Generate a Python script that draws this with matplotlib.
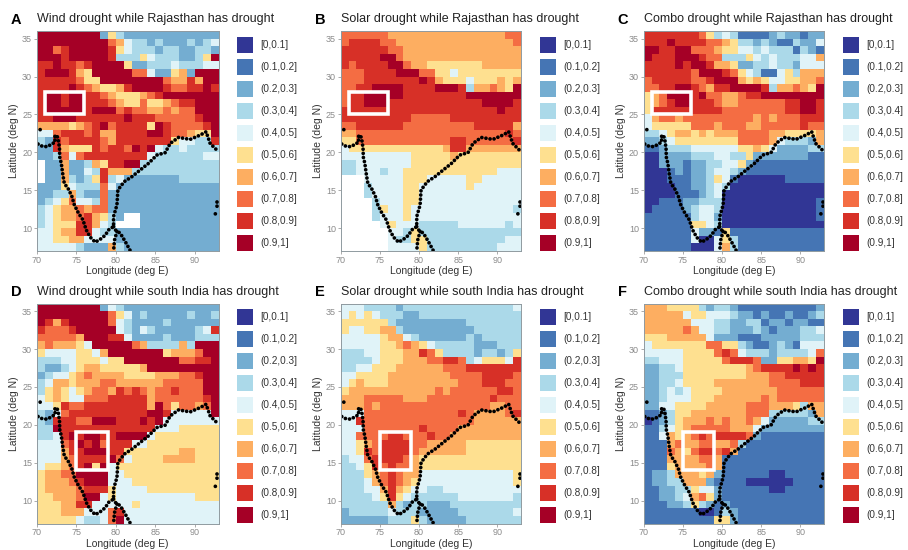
import numpy as np
import matplotlib
matplotlib.use("Agg")
import matplotlib.pyplot as plt
from matplotlib.colors import ListedColormap, BoundaryNorm
from matplotlib.patches import Rectangle

plt.rcParams['font.family'] = ['Liberation Sans', 'DejaVu Sans']

W, H = 908, 550

# bins as digits, 0 = [0,0.1] ... 9 = (0.9,1], '.' = no data. top row is lat 35-36
wind_raj = [
    "99999999253222222222222", "99999999976433232223234", "99789999985433323322332",
    "99989999983335433322359", "88988789999522333433344", "89998659999977422562999",
    "88888755999999997668699", "88889876556899998778898", "89989988765556789999999",
    "89989988876557556788999", "89999989997877667677999", "88999888888988877777899",
    "66665678978888598777789", "44788878668888998776559", "32878888768888888544338",
    "22865558788798943343333", "22374788888888433333344", ".22622365889933333333333",
    ".2262243866633333333333", ".2263235834222222233333", "22254333742222222222222",
    "22336322722222222222222", "23457443722222222222222", "34566767722222222222222",
    "34566786532..2222222222", "3455588643...2222222222", "44566884332222222222222",
    "44556644442222222222222", "44444322263222222222222",
]
solar_raj = [
    "77777766666666666666677", "78888776666666666666667", "88888877666666666666666",
    "88888997666666666666666", "87888899766555555566666", "77788889997755455555555",
    "77788888889865554555656", "77889999888899983667659", "78899999888888889999999",
    "78899988888888888899998", "88888888888888888888988", "88888888877777888888888",
    "77888888777777777888886", "66777777777777777777787", "55777777777777887777778",
    "45555555555556886666666", "44444444455555655555555", "33444444455555555555555",
    "33444344555555555555444", "...44444555444445544444", "...34444554444445444444",
    "...34444554444444444444", "....3444554444444444444", "....35445444444444444435",
    "....3444544444444444444", ".....454443333344444434", "......44353333333333333",
    "......43355333333333344", "......44445333333333444",
]
combo_raj = [
    "88888887534311112322122", "88898888776533232113224", "99889977765544343331321",
    "98889998773335434333446", "88889899866522334332444", "88888879998754311453666",
    "78888877899965654455667", "77889987688999983667659", "56799989776678899999999",
    "56789988876677777788998", "58888888887777777788998", "46776777777777676777888",
    "45555577767776677777877", "33456656566677776655556", "22345555555577776433326",
    "11233344444455654222233", "00222233344335222222211", "00222122334452111111111",
    "00012122344321111111111", "00011122354100000011111", "00001122343000000000000",
    "00001112340000000000000", "00111223330000000000001", "01111234430000000000001",
    "11111134420000000000001", "11111155430000000000000", "11111142215111111111111",
    "11111140045311111111111", "11111100046311111111111",
]
wind_south = [
    "99999999243222222222222", "99999999975423222223223", "98689999974322223222222",
    "87778999994324322222348", "77777699988422223222333", "67666549999976333363999",
    "54444554699999995666799", "33344555455999999977889", "32234566555556999999999",
    "23445676666555566677899", "34665666776666667777799", "35654567768787677877799",
    "45654477788888677777789", "44587788888888697577679", "32478888888888998444449",
    "32888779998889894444444", "33988888888888844455555", "33489899889999455555555",
    "44478989788844555555555", "44468899988555555566555", "44467888897455556666555",
    "45567895945555555555555", "56677999944555555555555", "56667899944455555555555",
    "56666788854444555555555", "55666799454444444444555", "55566884444454444444444",
    "55566644478444444444444", "55555433479444444444444",
]
solar_south = [
    "44433332333333333333334", "45454333223333333333333", "55555532222222223333333",
    "54455663222222222333333", "44444566432222223233333", "44444556765433333222333",
    "33344555668753333233235", "33334555666778873455548", "33445556666667778888888",
    "44555566666666777788887", "45655566666666677788877", "56666666666676777777887",
    "66677777666777777778777", "66676777777777777776677", "44477777777777787666678",
    "44877777777777777666666", "44477777778777766666666", "44777788777877666666666",
    "44567888877666665555555", "44587888876666665555555", "34478888765555555555555",
    "33458787765555555555555", "33356787664444444444445", "33346787654444444444445",
    "33344686544334444444444", "33334585433333344444443", "33333363233222333333333",
    "23333343332222233333334", "22222233353222223333333",
]
combo_south = [
    "66655553233211111111112", "66666455444322121121123", "66666644433223312212211",
    "66666764433222321222334", "55566666422211122222333", "45555555775532112321444",
    "44444555578743332333347", "33444555557888722556659", "22334555555556788889898",
    "22333555555556667788888", "22334555566666667777888", "22343455556666666777777",
    "22344455566666676777777", "22445555666667776665366", "11235566666667773333326",
    "01235666767667642222233", "11345677777666422222222", "11465678788887211111111",
    "11167667766731111111111", "11176578878611111111111", "11166667761111111111111",
    "11156666761111111111111", "12236665621111110011111", "12233666211110000001111",
    "11223354421111110011111", "11223467521111111111111", "11122353212111111111111",
    "11111110013211111111111", "11111111155211111111111",
]

panels = [wind_raj, solar_raj, combo_raj, wind_south, solar_south, combo_south]
titles = [
    "Wind drought while Rajasthan has drought",
    "Solar drought while Rajasthan has drought",
    "Combo drought while Rajasthan has drought",
    "Wind drought while south India has drought",
    "Solar drought while south India has drought",
    "Combo drought while south India has drought",
]
letters = ["A", "B", "C", "D", "E", "F"]
bin_labels = ["[0,0.1]", "(0.1,0.2]", "(0.2,0.3]", "(0.3,0.4]", "(0.4,0.5]",
              "(0.5,0.6]", "(0.6,0.7]", "(0.7,0.8]", "(0.8,0.9]", "(0.9,1]"]
bin_colors = ["#313695", "#4575b4", "#74add1", "#abd9e9", "#e0f3f8",
              "#fee090", "#fdae61", "#f46d43", "#d73027", "#a50026"]

# coastline
coast_lon = [70.13, 70.63, 71.27, 71.9, 72.32, 72.2, 72.53, 72.74, 72.87, 72.87, 73.08, 73.25,
             73.46, 74.0, 74.43, 74.73, 75.27, 75.82, 76.24, 76.75, 77.38, 78.02, 78.65, 79.07,
             79.7, 79.7, 80.13, 80.25, 81.05, 82.03, 83.08, 84.13, 85.19, 86.24, 86.88, 87.93,
             89.41, 90.68, 91.43, 91.94, 92.87]
coast_lat = [21.1, 20.83, 20.75, 21.1, 21.4, 22.06, 22.28, 21.4, 20.3, 19.43, 18.55, 17.24,
             15.92, 15.13, 14.17, 13.07, 11.97, 11.1, 9.78, 8.82, 8.16, 8.55, 9.08, 9.78,
             10.22, 11.54, 13.07, 15.04, 16.14, 16.8, 17.68, 18.55, 19.65, 19.96, 21.18, 21.97,
             21.71, 22.28, 22.72, 21.18, 20.22]
kutch_lon, kutch_lat = [70.4, 70.3], [23.0, 22.6]
lanka_e_lon, lanka_e_lat = [79.7, 79.92, 80.55, 81.18, 81.81], [10.22, 9.78, 9.34, 8.25, 7.06]
lanka_w_lon, lanka_w_lat = [80.13, 79.83, 79.7], [9.56, 8.46, 7.06]
andaman_lon, andaman_lat = [92.85, 92.85], [13.5, 12.6]
nicobar_lon, nicobar_lat = [92.6, 92.85], [11.9, 11.55]

lon_edges = np.arange(70, 94)
lat_edges = np.arange(36, 6, -1)

# panel boxes in pixels: left, top, right, bottom
boxes = [(37, 31, 218.5, 251), (340.7, 31, 521, 251), (643.7, 31, 824, 251),
         (37, 303.5, 218.5, 523.5), (340.7, 303.5, 521, 523.5), (643.7, 303.5, 824, 523.5)]
study_boxes = [(71, 25, 5, 3)] * 3 + [(75, 14, 4, 5)] * 3

cmap = ListedColormap(bin_colors)
cmap.set_bad("white")
norm = BoundaryNorm(np.arange(-0.5, 10.5), 10)


def to_grid(rows):
    grid = np.full((29, 23), np.nan)
    for i, row in enumerate(rows):
        row = (row + row[-1] * 23)[:23]
        for j, c in enumerate(row):
            if c != ".":
                grid[i, j] = int(c)
    return grid


def main():
    fig = plt.figure(figsize=(W / 100, H / 100), dpi=100)

    for i, rows in enumerate(panels):
        l, t, r, b = boxes[i]
        ax = fig.add_axes([l / W, 1 - b / H, (r - l) / W, (b - t) / H])
        ax.set_axisbelow(True)
        ax.grid(True, color="#ececec", lw=0.5)
        ax.pcolormesh(lon_edges, lat_edges, np.ma.masked_invalid(to_grid(rows)), cmap=cmap, norm=norm)

        for xs, ys in [(coast_lon, coast_lat), (kutch_lon, kutch_lat), (lanka_e_lon, lanka_e_lat),
                       (lanka_w_lon, lanka_w_lat), (andaman_lon, andaman_lat), (nicobar_lon, nicobar_lat)]:
            ax.plot(xs, ys, color="black", lw=2.7, linestyle=(0, (0.01, 1.1)), dash_capstyle="round")

        ax.add_patch(Rectangle(study_boxes[i][:2], study_boxes[i][2], study_boxes[i][3],
                               fill=False, edgecolor="white", lw=2.6, zorder=5))

        ax.set_xlim(70, 93)
        ax.set_ylim(7, 36)
        ax.set_xticks(range(70, 95, 5)[:5])
        ax.set_yticks(range(10, 40, 5))
        ax.tick_params(labelsize=6.5, colors="#8a8a8a", length=2, width=0.5, pad=1.5)
        ax.set_xlabel("Longitude (deg E)", fontsize=7.5, color="#333333", labelpad=1)
        ax.set_ylabel("Latitude (deg N)", fontsize=7.5, color="#333333", labelpad=2)
        for s in ax.spines.values():
            s.set_color("#8f9aa0")
            s.set_linewidth(0.7)

        fig.text(l / W, 1 - (t - 12) / H, titles[i], fontsize=9, color="#222222", va="center", ha="left")
        fig.text((l - 26) / W, 1 - (t - 11) / H, letters[i], fontsize=10.5, fontweight="bold", va="center", ha="left")

        # legend is drawn by hand so the swatches land where they do in the figure
        for k, lab in enumerate(bin_labels):
            top = t + 5.5 + k * 22.05
            fig.add_artist(Rectangle(((l + 199.5) / W, 1 - (top + 16) / H), 16 / W, 16 / H,
                                     facecolor=bin_colors[k], edgecolor="none", transform=fig.transFigure))
            fig.text((l + 223) / W, 1 - (top + 8) / H, lab, fontsize=7.2, color="#333333", va="center", ha="left")

    fig.savefig("out.png", dpi=100)


if __name__ == "__main__":
    main()
